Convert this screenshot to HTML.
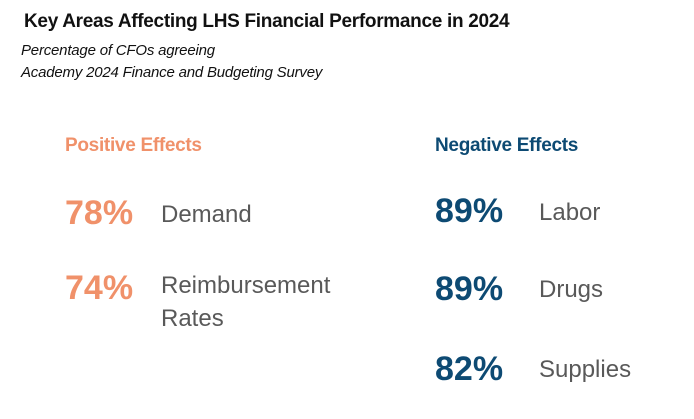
<!DOCTYPE html>
<html><head><meta charset="utf-8">
<style>
body{margin:0;width:694px;height:419px;background:#fff;position:relative;overflow:hidden;font-family:"Liberation Sans",sans-serif}
.a{position:absolute;white-space:nowrap;line-height:1}
.t{left:24px;top:12px;font-size:19px;font-weight:bold;color:#111;letter-spacing:-0.3px}
.s{left:21px;font-size:15px;font-style:italic;color:#111;letter-spacing:-0.2px}
.h{top:136px;font-size:19px;font-weight:bold;letter-spacing:-0.3px}
.n{font-size:34px;font-weight:bold}
.l{font-size:24px;color:#595959;line-height:33px}
</style></head><body>
<div class="a t">Key Areas Affecting LHS Financial Performance in 2024</div>
<div class="a s" style="top:43px">Percentage of CFOs agreeing</div>
<div class="a s" style="top:65px">Academy 2024 Finance and Budgeting Survey</div>
<div class="a h" style="left:65px;color:#F0916A">Positive Effects</div>
<div class="a h" style="left:435px;color:#0D4A73">Negative Effects</div>
<script>
const posLabels=["Demand","Reimbursement<br>Rates"];
const posValues=[78,74];
const negLabels=["Labor","Drugs","Supplies"];
const negValues=[89,89,82];
function row(v,lab,i,numX,labX,color,kind,tops,loff){
  const y=tops[i];
  const n=document.createElement('div');
  n.className='a n';n.style.left=numX+'px';n.style.top=y+'px';n.style.color=color;
  n.textContent=v+'%';
  
  
  document.body.appendChild(n);
  const l=document.createElement('div');
  l.className='a l';l.style.left=labX+'px';l.style.top=(y+loff[i])+'px';l.innerHTML=lab;
  
  
  document.body.appendChild(l);
}
posValues.forEach((v,i)=>row(v,posLabels[i],i,65,161,'#F0916A','positive',[196,271],[2,-2]));
negValues.forEach((v,i)=>row(v,negLabels[i],i,435,539,'#0D4A73','negative',[194,272,352],[2,1,1]));
</script>
</body></html>
